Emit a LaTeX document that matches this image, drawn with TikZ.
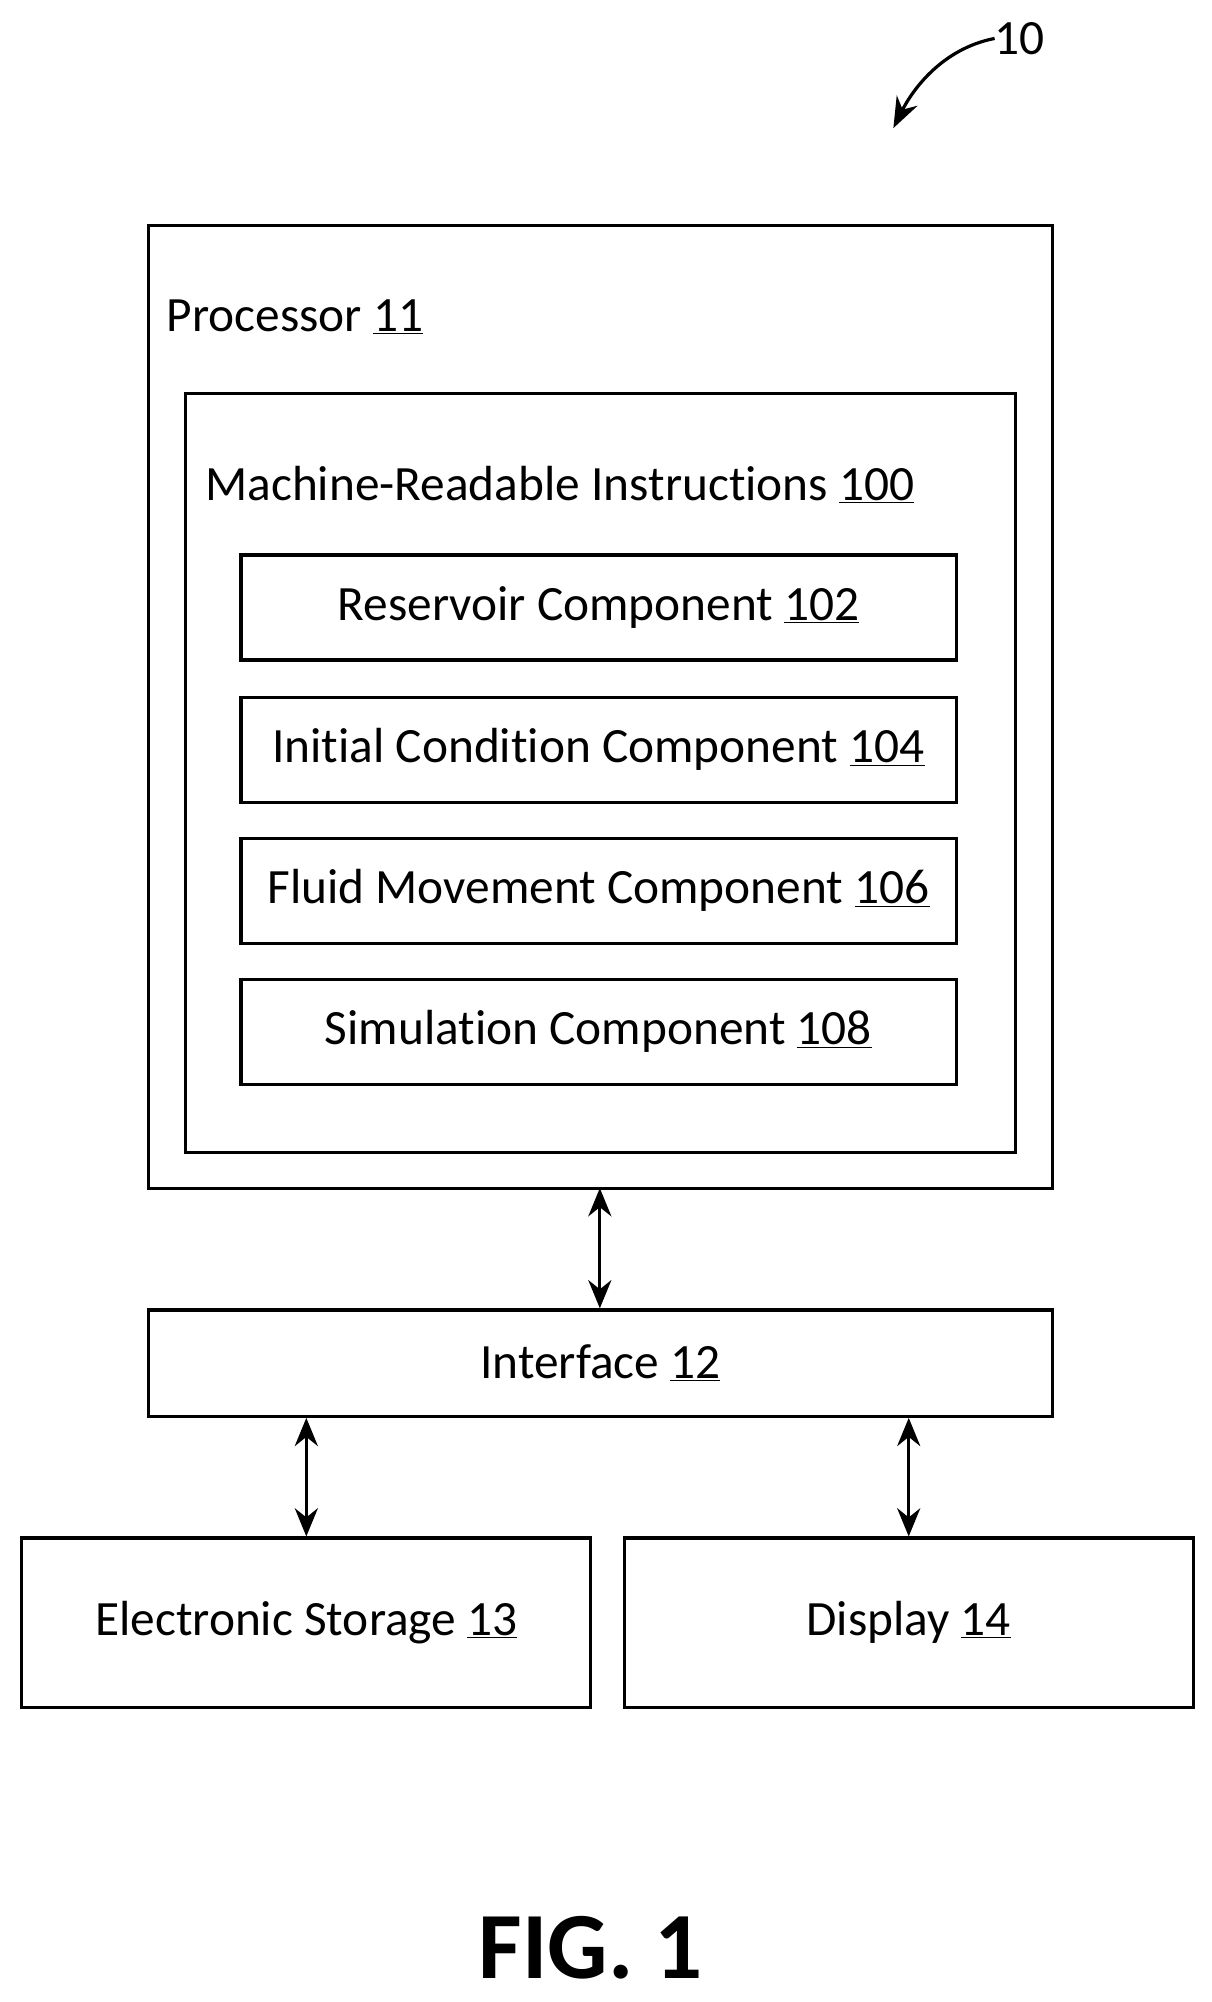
\documentclass[tikz,border=0pt]{standalone}
\usepackage{fontspec}
\setmainfont{Carlito}[RawFeature=-liga]
\usetikzlibrary{arrows.meta}
\begin{document}
\begin{tikzpicture}[x=1pt,y=-1pt,
  box/.style={draw,line width=2.5pt},
  lbl/.style={font=\fontsize{38.5}{44}\selectfont,inner sep=0pt},
  arr/.style={line width=2.5pt,{Stealth[length=22pt,width=18pt]}-{Stealth[length=22pt,width=18pt]}}]
\useasboundingbox (0,0) rectangle (945,1562);
\draw[box] (116,176) rectangle (821,927);
\node[lbl,anchor=west] (pl) at (130,247) {Processor \underline{11}};
\draw[box] (145,307) rectangle (792,899);
\node[lbl,anchor=west] (ml) at (160,378) {Machine-Readable Instructions \underline{100}};
\node[box,lbl,minimum width=558pt,minimum height=82pt] (c1) at (467,474) {Reservoir Component \underline{102}};
\node[box,lbl,minimum width=558pt,minimum height=82pt] (c2) at (467,585) {Initial Condition Component \underline{104}};
\node[box,lbl,minimum width=558pt,minimum height=82pt] (c3) at (467,695) {Fluid Movement Component \underline{106}};
\node[box,lbl,minimum width=558pt,minimum height=82pt] (c4) at (467,805) {Simulation Component \underline{108}};
\coordinate (pb) at (468,927);
\node[box,lbl,minimum width=705pt,minimum height=83pt] (if) at (468.5,1063.5) {Interface \underline{12}};
\node[box,lbl,minimum width=444pt,minimum height=132pt] (es) at (239,1266) {Electronic Storage \underline{13}};
\node[box,lbl,minimum width=444pt,minimum height=132pt] (dp) at (709,1266) {Display \underline{14}};
\draw[arr] (pb) -- (if.north -| pb);
\draw[arr] (if.south -| es.north) -- (es.north);
\draw[arr] (if.south -| dp.north) -- (dp.north);
\node[lbl,font=\fontsize{74}{84}\selectfont\bfseries] (fig) at (461,1520) {FIG. 1};
\node[lbl,anchor=west] (ten) at (776,30) {10};
\draw[line width=2.5pt,-{Stealth[length=24pt,width=18pt]}] (ten.west) .. controls (735,38) and (712,70) .. (697,100);
\end{tikzpicture}
\end{document}
